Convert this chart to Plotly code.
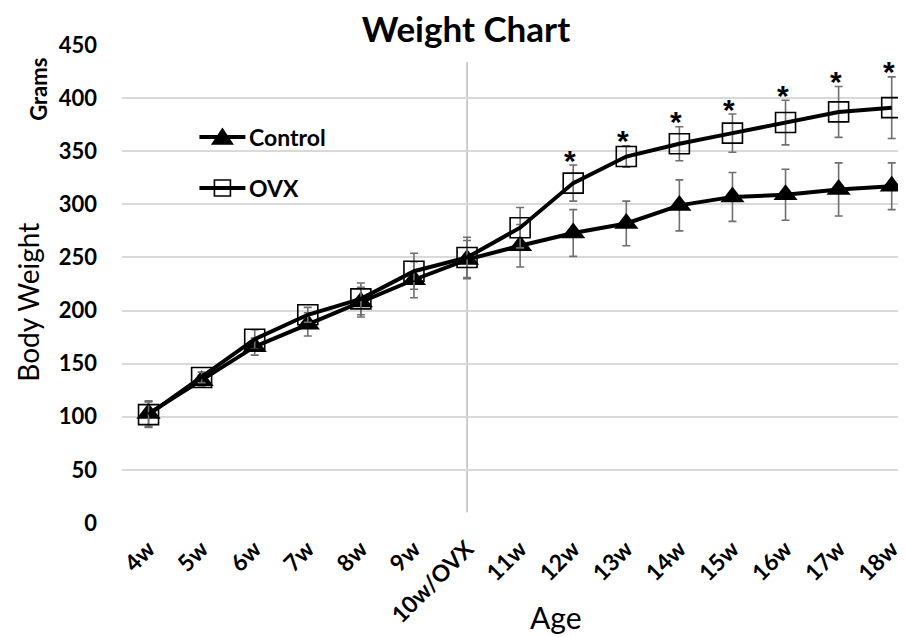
import plotly.graph_objects as go

ages = ["4w", "5w", "6w", "7w", "8w", "9w", "10w/OVX", "11w", "12w", "13w",
        "14w", "15w", "16w", "17w", "18w"]
control_mean = [103, 134, 166, 187, 208, 229, 248, 261, 273, 282, 299, 307, 309, 314, 317]
control_err = [12, 5, 8, 11, 14, 17, 18, 20, 22, 21, 24, 23, 24, 25, 22]
ovx_mean = [102, 137, 173, 196, 211, 237, 250, 278, 320, 345, 357, 367, 377, 387, 391]
ovx_err = [12, 5, 9, 7, 15, 17, 19, 19, 17, 10, 16, 18, 21, 24, 29]
significant = [False, False, False, False, False, False, False, False,
               True, True, True, True, True, True, True]
series_names = ["Control", "OVX"]

FONT = "Lato"
fig = go.Figure()

fig.add_trace(go.Scatter(
    x=ages, y=control_mean, name=series_names[0], mode="lines+markers",
    line=dict(color="black", width=4),
    marker=dict(symbol="triangle-up", size=21, color="black"),
    error_y=dict(type="data", array=control_err, visible=True,
                 color="#6f6f6f", thickness=1.6, width=4),
    showlegend=False,
))
fig.add_trace(go.Scatter(
    x=ages, y=ovx_mean, name=series_names[1], mode="lines+markers",
    line=dict(color="black", width=4),
    marker=dict(symbol="square-open", size=20, color="black",
                line=dict(width=1.6, color="black")),
    error_y=dict(type="data", array=ovx_err, visible=True,
                 color="#6f6f6f", thickness=1.6, width=4),
    showlegend=False,
))

for a, m, e, s in zip(ages, ovx_mean, ovx_err, significant):
    if s:
        fig.add_annotation(x=a, y=m + e, text="<b>*</b>", showarrow=False,
                           xshift=-3, yshift=5, yanchor="middle",
                           font=dict(family="Liberation Sans", size=30, color="black"))

fig.add_shape(type="line", xref="x", yref="y", x0="10w/OVX", x1="10w/OVX",
              y0=10, y1=434, line=dict(color="#9a9a9a", width=1), layer="below")

# custom legend
leg_x = 0.1268
leg_ys = [0.8075, 0.7008]
marker_paths = ["M-10,-7 L10,-7 L0,8 Z", "M-8,-8 L8,-8 L8,8 L-8,8 Z"]
marker_fill = ["black", "rgba(0,0,0,0)"]
for name, ly, mp, mf in zip(series_names, leg_ys, marker_paths, marker_fill):
    fig.add_shape(type="line", xref="paper", yref="paper",
                  xsizemode="pixel", ysizemode="pixel",
                  xanchor=leg_x, yanchor=ly, x0=-23, x1=23, y0=0, y1=0,
                  line=dict(color="black", width=4))
    fig.add_shape(type="path", xref="paper", yref="paper",
                  xsizemode="pixel", ysizemode="pixel",
                  xanchor=leg_x, yanchor=ly, path=mp, fillcolor=mf,
                  line=dict(color="black", width=1.6))
    fig.add_annotation(xref="paper", yref="paper", x=0.1584, y=ly,
                       text="<b>%s</b>" % name, showarrow=False,
                       xanchor="left", yanchor="middle",
                       font=dict(family=FONT, size=23, color="black"))

fig.add_annotation(xref="paper", yref="paper", x=-0.118, y=0.462,
                   text="Body Weight", textangle=-90, showarrow=False,
                   xanchor="center", yanchor="middle",
                   font=dict(family=FONT, size=28, color="black"))
fig.add_annotation(xref="paper", yref="paper", x=-0.105, y=0.908,
                   text="<b>Grams</b>", textangle=-90, showarrow=False,
                   xanchor="center", yanchor="middle",
                   font=dict(family=FONT, size=22, color="black"))
fig.add_annotation(xref="paper", yref="paper", x=0.548, y=-0.197,
                   text="Age", showarrow=False,
                   xanchor="center", yanchor="middle",
                   font=dict(family=FONT, size=30, color="black"))

fig.update_layout(
    width=906, height=637,
    margin=dict(l=113.5, r=0, t=37, b=122, autoexpand=False),
    paper_bgcolor="white", plot_bgcolor="white",
    title=dict(text="<b>Weight Chart</b>", x=0.5055, xanchor="center",
               y=0.966, yanchor="middle", yref="container",
               font=dict(family=FONT, size=35, color="black")),
    showlegend=False,
    font=dict(family=FONT, color="black"),
)
fig.update_xaxes(type="category", range=[-0.5, 14.42], showgrid=False,
                 showline=False, zeroline=False, tickangle=-45, automargin=False,
                 tickfont=dict(family=FONT, size=23, color="black"),
                 ticklabelstandoff=7, tickprefix="<b>", ticksuffix="</b>")
fig.update_yaxes(range=[0, 450], dtick=50, showgrid=True, gridcolor="#d9d9d9",
                 gridwidth=1.5, zeroline=False, showline=False, automargin=False,
                 tickfont=dict(family=FONT, size=22, color="black"),
                 ticklabelstandoff=24, tickprefix="<b>", ticksuffix="</b>")

fig.write_html("out.html")
